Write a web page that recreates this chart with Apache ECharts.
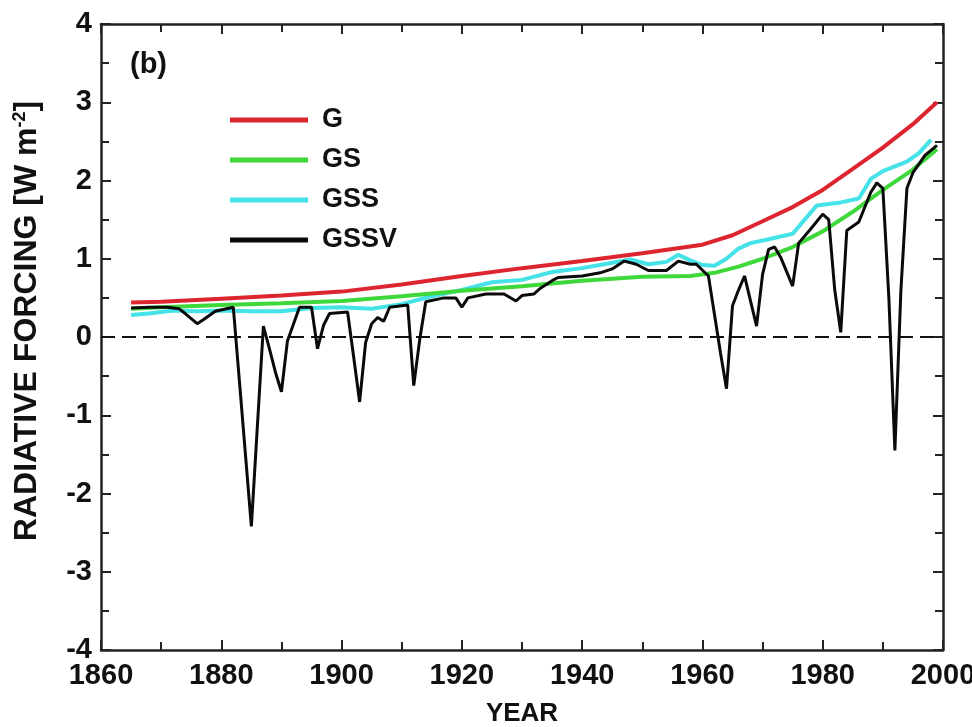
<!DOCTYPE html>
<html>
<head>
<meta charset="utf-8">
<script src="https://cdn.jsdelivr.net/npm/echarts@6/dist/echarts.min.js"></script>
<style>
  html, body { margin: 0; padding: 0; background: #fff; }
  #chart { width: 972px; height: 727px; }
</style>
</head>
<body>
<div id="chart"></div>
<script>
// G - greenhouse gases only
var gYears = [1865, 1870, 1880, 1890, 1900, 1910, 1920, 1930, 1940, 1950, 1960, 1965, 1970, 1975, 1980, 1985, 1990, 1995, 1999];
var gVals  = [0.44, 0.45, 0.49, 0.53, 0.58, 0.67, 0.78, 0.88, 0.97, 1.07, 1.18, 1.30, 1.48, 1.66, 1.88, 2.15, 2.42, 2.72, 3.00];

// GS - plus sulfate aerosols
var gsYears = [1865, 1870, 1880, 1890, 1900, 1910, 1920, 1930, 1940, 1950, 1958, 1962, 1966, 1970, 1975, 1980, 1985, 1990, 1995, 1999];
var gsVals  = [0.36, 0.38, 0.41, 0.43, 0.46, 0.52, 0.59, 0.65, 0.72, 0.77, 0.78, 0.82, 0.90, 1.00, 1.15, 1.35, 1.60, 1.88, 2.14, 2.40];

// GSS - plus solar
var gssYears = [1865, 1868, 1872, 1876, 1880, 1885, 1890, 1895, 1900, 1905, 1910, 1915, 1920, 1925, 1930, 1935, 1940, 1945, 1948, 1951, 1954, 1956, 1958, 1960, 1962, 1964, 1966, 1968, 1971, 1975, 1977, 1979, 1983, 1986, 1988, 1990, 1992, 1994, 1996, 1998];
var gssVals  = [0.28, 0.30, 0.34, 0.33, 0.34, 0.33, 0.33, 0.37, 0.38, 0.36, 0.42, 0.52, 0.60, 0.70, 0.73, 0.83, 0.88, 0.95, 0.99, 0.93, 0.96, 1.05, 0.98, 0.92, 0.91, 1.00, 1.13, 1.20, 1.25, 1.32, 1.50, 1.68, 1.72, 1.77, 2.02, 2.12, 2.18, 2.24, 2.35, 2.52];

// GSSV - plus volcanic
var gssvYears = [1865, 1868, 1871, 1873, 1874, 1876, 1877, 1879, 1882, 1883, 1885, 1887, 1888, 1889, 1890, 1891, 1893, 1895, 1896, 1897, 1898, 1901, 1902, 1903, 1904, 1905, 1906, 1907, 1908, 1911, 1912, 1913, 1914, 1917, 1919, 1920, 1921, 1924, 1927, 1929, 1930, 1932, 1933, 1935, 1936, 1940, 1943, 1945, 1947, 1949, 1951, 1954, 1956, 1958, 1959, 1961, 1963, 1964, 1965, 1966, 1967, 1969, 1970, 1971, 1972, 1973, 1975, 1976, 1978, 1980, 1981, 1982, 1983, 1984, 1986, 1988, 1989, 1990, 1991, 1992, 1993, 1994, 1995, 1997, 1999];
var gssvVals  = [0.37, 0.38, 0.38, 0.36, 0.30, 0.17, 0.22, 0.33, 0.38, -0.55, -2.42, 0.14, -0.15, -0.45, -0.70, -0.05, 0.38, 0.38, -0.15, 0.15, 0.30, 0.32, -0.25, -0.83, -0.07, 0.17, 0.25, 0.20, 0.38, 0.41, -0.62, -0.03, 0.45, 0.50, 0.50, 0.38, 0.50, 0.55, 0.55, 0.46, 0.53, 0.55, 0.62, 0.72, 0.76, 0.78, 0.82, 0.87, 0.97, 0.93, 0.85, 0.85, 0.97, 0.93, 0.93, 0.78, -0.20, -0.66, 0.40, 0.60, 0.78, 0.14, 0.80, 1.12, 1.15, 1.02, 0.65, 1.20, 1.38, 1.57, 1.50, 0.60, 0.06, 1.36, 1.47, 1.85, 1.97, 1.90, 0.50, -1.45, 0.60, 1.90, 2.10, 2.32, 2.45];

var xTicks = [1860, 2000, 20];
var yTicks = [-4, 4, 1];

function pairs(xs, ys) {
  var out = [];
  for (var i = 0; i < xs.length; i++) out.push([xs[i], ys[i]]);
  return out;
}

var FONT = "'Liberation Sans', Arial, sans-serif";

function xAx(pos, labels) {
  return {
    type: 'value', position: pos, min: xTicks[0], max: xTicks[1], interval: xTicks[2],
    axisLine: { show: true, onZero: false, lineStyle: { color: '#222', width: 2.5 } },
    axisTick: { show: true, inside: true, length: 10, lineStyle: { color: '#222', width: 2 } },
    minorTick: { show: true, splitNumber: 2, length: 8, lineStyle: { color: '#222', width: 2 } },
    splitLine: { show: false },
    axisLabel: {
      show: labels, margin: 11, color: '#111', fontSize: 29, fontWeight: 'bold', fontFamily: FONT,
      formatter: function (v) { return String(v); }
    },
    name: labels ? 'YEAR' : '', nameLocation: 'middle', nameGap: 51,
    nameTextStyle: { color: '#111', fontSize: 26, fontWeight: 'bold', fontFamily: FONT }
  };
}

function yAx(pos, labels) {
  return {
    type: 'value', position: pos, min: yTicks[0], max: yTicks[1], interval: yTicks[2],
    axisLine: { show: true, onZero: false, lineStyle: { color: '#222', width: 2.5 } },
    axisTick: { show: true, inside: true, length: 10, lineStyle: { color: '#222', width: 2 } },
    minorTick: { show: true, splitNumber: 2, length: 8, lineStyle: { color: '#222', width: 2 } },
    splitLine: { show: false },
    axisLabel: { show: labels, margin: 9, color: '#111', fontSize: 29, fontWeight: 'bold', fontFamily: FONT },
    name: labels ? 'RADIATIVE FORCING [W m{sup|-2}]' : '', nameLocation: 'middle', nameGap: 57,
    nameTextStyle: {
      color: '#111', fontSize: 32, fontWeight: 'bold', fontFamily: FONT, padding: [0, 0, 0, 32],
      rich: { sup: { fontSize: 18, fontWeight: 'bold', fontFamily: FONT, color: '#111', verticalAlign: 'top', padding: [0, 0, 15, 0] } }
    }
  };
}

var chart = echarts.init(document.getElementById('chart'), null, { renderer: 'canvas' });

var option = {
  backgroundColor: '#fff',
  animation: false,
  textStyle: { fontFamily: FONT },
  title: {
    text: '(b)', left: 130, top: 50, padding: 0,
    textStyle: { fontSize: 29, fontWeight: 'bold', color: '#111', fontFamily: FONT }
  },
  legend: {
    orient: 'vertical', left: 230, top: 106, padding: 0,
    icon: 'rect', itemWidth: 78, itemHeight: 5, itemGap: 12,
    textStyle: { fontSize: 27, fontWeight: 'bold', color: '#111', fontFamily: FONT, padding: [0, 0, 0, 9], lineHeight: 28 },
    data: ['G', 'GS', 'GSS', 'GSSV']
  },
  grid: { left: 101, right: 29, top: 24, bottom: 77, outerBoundsMode: 'none', containLabel: false },
  xAxis: [xAx('bottom', true), xAx('top', false)],
  yAxis: [yAx('left', true), yAx('right', false)],
  series: [
    {
      name: 'G', type: 'line', data: pairs(gYears, gVals), showSymbol: false, z: 3,
      lineStyle: { color: '#dd2530', width: 4 }, itemStyle: { color: '#dd2530' },
      markLine: {
        silent: true, symbol: 'none', label: { show: false },
        lineStyle: { color: '#111', width: 2, type: [14, 7] },
        data: [{ yAxis: 0 }]
      }
    },
    {
      name: 'GSS', type: 'line', data: pairs(gssYears, gssVals), showSymbol: false, z: 4,
      lineStyle: { color: '#45e2e8', width: 4 }, itemStyle: { color: '#45e2e8' }
    },
    {
      name: 'GS', type: 'line', data: pairs(gsYears, gsVals), showSymbol: false, z: 5,
      lineStyle: { color: '#3fd83a', width: 4 }, itemStyle: { color: '#3fd83a' }
    },
    {
      name: 'GSSV', type: 'line', data: pairs(gssvYears, gssvVals), showSymbol: false, z: 6,
      lineStyle: { color: '#0a0a0a', width: 3 }, itemStyle: { color: '#0a0a0a' }
    }
  ]
};

chart.setOption(option);
</script>
</body>
</html>
